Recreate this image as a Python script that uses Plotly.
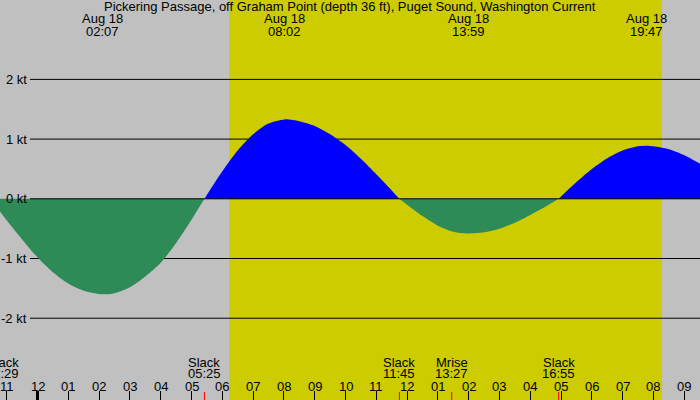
import plotly.graph_objects as go

# hours from midnight Aug 18 (negative = Aug 17), speed in knots (+ flood, - ebb)
hours = [-1.52, -1.0, -0.5, 0.0, 0.5, 1.0, 1.5, 2.12, 2.5, 3.0, 3.5, 4.0, 4.5, 5.0,
         5.42, 6.0, 6.5, 7.0, 7.5, 8.03, 8.5, 9.0, 9.5, 10.0, 10.5, 11.0, 11.5,
         11.75, 12.0, 12.5, 13.0, 13.5, 13.98, 14.5, 15.0, 15.5, 16.0, 16.5,
         16.92, 17.5, 18.0, 18.5, 19.0, 19.5, 19.78, 20.0, 20.5, 21.0, 21.5, 22.0]
speed_kt = [0.0, -0.36, -0.68, -0.98, -1.23, -1.42, -1.54, -1.60, -1.58, -1.48, -1.30, -1.07, -0.74, -0.35,
            0.0, 0.46, 0.81, 1.08, 1.26, 1.33, 1.30, 1.22, 1.08, 0.90, 0.67, 0.41, 0.14,
            0.0, -0.10, -0.29, -0.45, -0.55, -0.58, -0.56, -0.50, -0.40, -0.27, -0.13,
            0.0, 0.28, 0.50, 0.68, 0.81, 0.88, 0.89, 0.88, 0.83, 0.73, 0.59, 0.41]

# max/min current times (top labels)
peak_hours = [2.12, 8.03, 13.98, 19.78]
peak_dates = ["Aug 18", "Aug 18", "Aug 18", "Aug 18"]
peak_labels = ["02:07", "08:02", "13:59", "19:47"]

# slack / moonrise events (bottom labels)
event_hours = [-1.52, 5.42, 11.75, 13.45, 16.92]
event_names = ["Slack", "Slack", "Slack", "Mrise", "Slack"]
event_labels = ["22:29", "05:25", "11:45", "13:27", "16:55"]

sunrise, sunset = 6.22, 20.27

hour_ticks = list(range(-1, 22))
hour_text = ["11", "12", "01", "02", "03", "04", "05", "06", "07", "08", "09", "10", "11",
             "12", "01", "02", "03", "04", "05", "06", "07", "08", "09"]

kt_ticks = [2, 1, 0, -1, -2]
kt_text = ["2 kt", "1 kt", "0 kt", "-1 kt", "-2 kt"]

title = "Pickering Passage, off Graham Point (depth 36 ft), Puget Sound, Washington Current"

W, H = 700, 400
X0, X1 = -1.218, 21.51
FONT = "Liberation Sans, Arial, sans-serif"


def px(h):
    # hour -> paper x (so labels just off the axis still show)
    return (h - X0) / (X1 - X0)


def label(text, x, ypix, **kw):
    return dict(text=text, xref="paper", yref="paper", x=x, y=1 - ypix / H, showarrow=False,
                xanchor="center", yanchor="middle", **kw)


pos = [v if v >= 0 else None for v in speed_kt]
neg = [v if v <= 0 else None for v in speed_kt]

fig = go.Figure()
fig.add_trace(go.Scatter(x=hours, y=neg, mode="lines", line=dict(width=0, shape="spline", smoothing=0.8),
                         fill="tozeroy", fillcolor="#2e8b57", hoverinfo="skip"))
fig.add_trace(go.Scatter(x=hours, y=pos, mode="lines", line=dict(width=0, shape="spline", smoothing=0.8),
                         fill="tozeroy", fillcolor="#0000ff", hoverinfo="skip"))

shapes = [dict(type="rect", xref="x", yref="paper", x0=sunrise, x1=sunset, y0=0, y1=1,
               fillcolor="#cccc00", line=dict(width=0), layer="below")]
for v in kt_ticks:
    shapes.append(dict(type="line", xref="paper", yref="y", x0=30 / W, x1=1, y0=v, y1=v,
                       line=dict(color="black", width=1), layer="above" if v == 0 else "below"))
# midnight tick thicker
shapes.append(dict(type="line", xref="x", yref="paper", x0=0, x1=0, y0=0, y1=9 / H,
                   line=dict(color="black", width=3)))
for h in event_hours:
    shapes.append(dict(type="line", xref="x", yref="paper", x0=h, x1=h, y0=0, y1=8 / H,
                       line=dict(color="red", width=1)))

ann = [label(title, 0.5, 7)]
for v, t in zip(kt_ticks, kt_text):
    ann.append(dict(text=t, xref="paper", yref="y", x=29 / W, y=v, showarrow=False,
                    xanchor="right", yanchor="middle"))
for h, d, t in zip(peak_hours, peak_dates, peak_labels):
    ann.append(label(d, px(h), 19))
    ann.append(label(t, px(h), 31.5))
for i, (h, n, t) in enumerate(zip(event_hours, event_names, event_labels)):
    shift = 12 if i == 0 else 0
    ann.append(label(n, px(h), 362, xshift=shift))
    ann.append(label(t, px(h), 373.5, xshift=shift))
for h, t in zip(hour_ticks, hour_text):
    ann.append(label(t, px(h), 386))

fig.update_layout(
    width=W, height=H,
    margin=dict(l=0, r=0, t=0, b=0),
    paper_bgcolor="#c0c0c0", plot_bgcolor="#c0c0c0",
    font=dict(family=FONT, size=13, color="black"),
    showlegend=False,
    xaxis=dict(range=[X0, X1], showgrid=False, zeroline=False, showline=False,
               tickvals=hour_ticks, ticks="inside", ticklen=9, tickwidth=1, tickcolor="black",
               showticklabels=False),
    yaxis=dict(range=[-3.37, 3.33], showgrid=False, zeroline=False, showticklabels=False),
    shapes=shapes,
    annotations=ann,
)

fig.write_html("out.html", config={"displayModeBar": False},
               post_script="document.body.style.margin='0';")
